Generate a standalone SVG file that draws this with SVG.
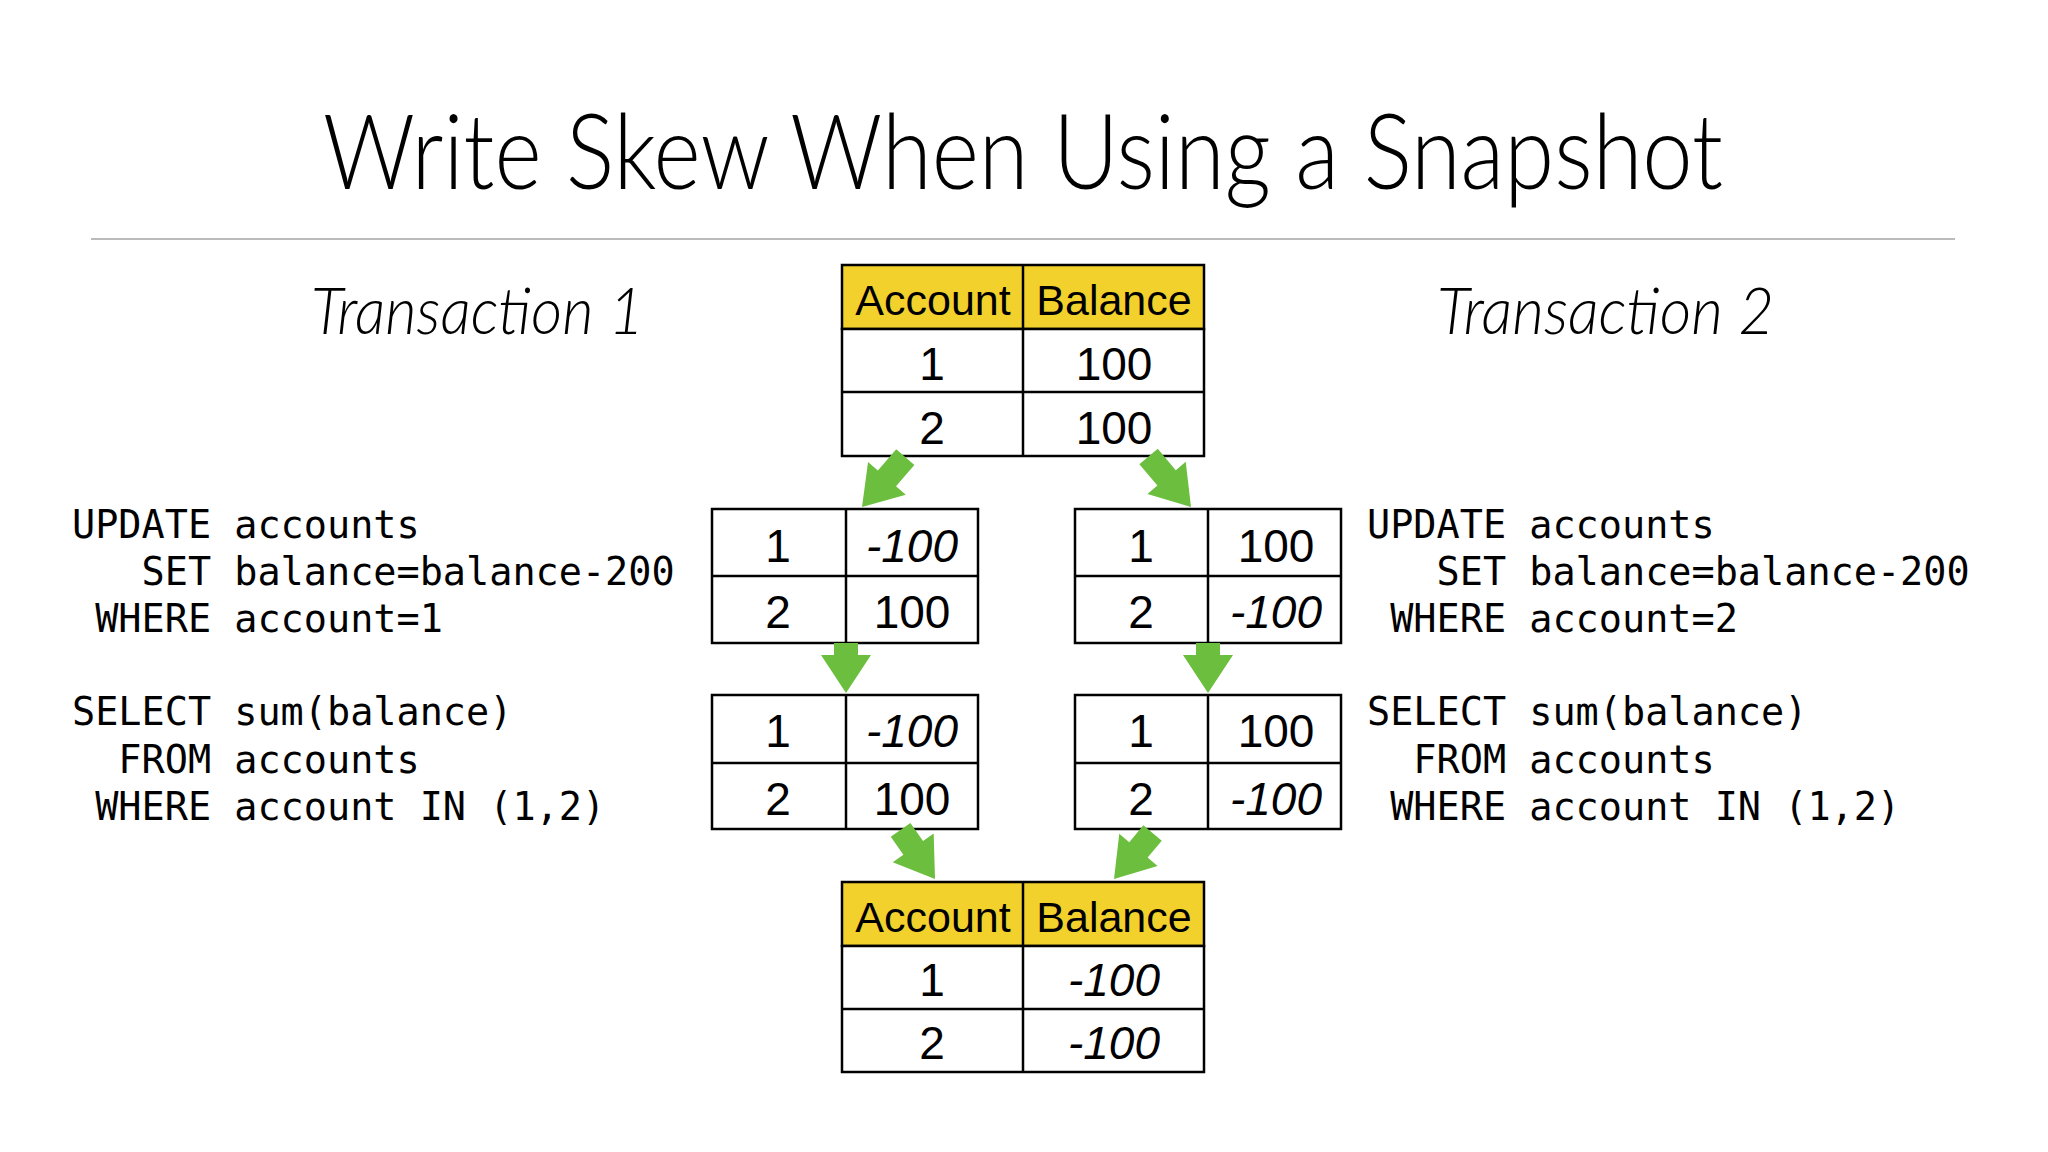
<svg xmlns="http://www.w3.org/2000/svg" width="2048" height="1152" viewBox="0 0 2048 1152">
<style>
.t{font-family:"Liberation Sans",Arial,sans-serif;fill:#000}
.title{font-size:104px;font-weight:300;font-family:Lato,"Liberation Sans",sans-serif}
.tx{font-size:66px;font-style:italic;font-weight:300;font-family:Lato,"Liberation Sans",sans-serif}
.code{font-family:"DejaVu Sans Mono","Liberation Mono",monospace;font-size:38.5px;white-space:pre;fill:#000}
.c{font-family:"Liberation Sans",Arial,sans-serif;font-size:46px;text-anchor:middle;fill:#000}
.h{font-size:43px}
.i{font-style:italic}
.cell{fill:#fff;stroke:#000;stroke-width:2.5}
.hdr{fill:#f2d12c;stroke:#000;stroke-width:2.5}
.ln{stroke:#000;stroke-width:2.5}
.arr{fill:#6cbf3e}
</style>
<rect width="2048" height="1152" fill="#fff"/>
<text class="t title" x="323" y="189" textLength="1400" lengthAdjust="spacingAndGlyphs">Write Skew When Using a Snapshot</text>
<line x1="91" y1="239" x2="1955" y2="239" stroke="#bbb" stroke-width="2"/>
<text class="t tx" x="311" y="334" textLength="333" lengthAdjust="spacingAndGlyphs">Transaction 1</text>
<text class="t tx" x="1437" y="334" textLength="337" lengthAdjust="spacingAndGlyphs">Transaction 2</text>

<g id="code1">
<text class="code" x="72" y="538">UPDATE accounts</text>
<text class="code" x="72" y="585">   SET balance=balance-200</text>
<text class="code" x="72" y="632"> WHERE account=1</text>
<text class="code" x="72" y="725">SELECT sum(balance)</text>
<text class="code" x="72" y="773">  FROM accounts</text>
<text class="code" x="72" y="820"> WHERE account IN (1,2)</text>
</g>
<g id="code2">
<text class="code" x="1367" y="538">UPDATE accounts</text>
<text class="code" x="1367" y="585">   SET balance=balance-200</text>
<text class="code" x="1367" y="632"> WHERE account=2</text>
<text class="code" x="1367" y="725">SELECT sum(balance)</text>
<text class="code" x="1367" y="773">  FROM accounts</text>
<text class="code" x="1367" y="820"> WHERE account IN (1,2)</text>
</g>

<g id="table-top">
<rect class="hdr" x="842" y="265" width="362" height="64"/>
<rect class="cell" x="842" y="329" width="362" height="127"/>
<line class="ln" x1="842" y1="392" x2="1204" y2="392"/>
<line class="ln" x1="1023" y1="265" x2="1023" y2="456"/>
<text class="c h" x="933" y="315">Account</text>
<text class="c h" x="1114" y="315">Balance</text>
<text class="c" x="932" y="380">1</text><text class="c" x="1114" y="380">100</text>
<text class="c" x="932" y="444">2</text><text class="c" x="1114" y="444">100</text>
</g>

<g id="t1-after-update">
<rect class="cell" x="712" y="509" width="266" height="134"/>
<line class="ln" x1="712" y1="576" x2="978" y2="576"/>
<line class="ln" x1="846" y1="509" x2="846" y2="643"/>
<text class="c" x="778" y="562">1</text><text class="c i" x="912" y="562">-100</text>
<text class="c" x="778" y="628">2</text><text class="c" x="912" y="628">100</text>
</g>
<g id="t2-after-update">
<rect class="cell" x="1075" y="509" width="266" height="134"/>
<line class="ln" x1="1075" y1="576" x2="1341" y2="576"/>
<line class="ln" x1="1208" y1="509" x2="1208" y2="643"/>
<text class="c" x="1141" y="562">1</text><text class="c" x="1276" y="562">100</text>
<text class="c" x="1141" y="628">2</text><text class="c i" x="1276" y="628">-100</text>
</g>
<g id="t1-select">
<rect class="cell" x="712" y="695" width="266" height="134"/>
<line class="ln" x1="712" y1="763" x2="978" y2="763"/>
<line class="ln" x1="846" y1="695" x2="846" y2="829"/>
<text class="c" x="778" y="747">1</text><text class="c i" x="912" y="747">-100</text>
<text class="c" x="778" y="815">2</text><text class="c" x="912" y="815">100</text>
</g>
<g id="t2-select">
<rect class="cell" x="1075" y="695" width="266" height="134"/>
<line class="ln" x1="1075" y1="763" x2="1341" y2="763"/>
<line class="ln" x1="1208" y1="695" x2="1208" y2="829"/>
<text class="c" x="1141" y="747">1</text><text class="c" x="1276" y="747">100</text>
<text class="c" x="1141" y="815">2</text><text class="c i" x="1276" y="815">-100</text>
</g>

<g id="table-bottom">
<rect class="hdr" x="842" y="882" width="362" height="64"/>
<rect class="cell" x="842" y="946" width="362" height="126"/>
<line class="ln" x1="842" y1="1009" x2="1204" y2="1009"/>
<line class="ln" x1="1023" y1="882" x2="1023" y2="1072"/>
<text class="c h" x="933" y="932">Account</text>
<text class="c h" x="1114" y="932">Balance</text>
<text class="c" x="932" y="996">1</text><text class="c i" x="1114" y="996">-100</text>
<text class="c" x="932" y="1059">2</text><text class="c i" x="1114" y="1059">-100</text>
</g>

<g id="connectors">
<path class="arr" transform="translate(862,507) rotate(41)" d="M-12,-66 L12,-66 L12,-38 L25,-38 L0,0 L-25,-38 L-12,-38 Z"/>
<path class="arr" transform="translate(1191,507) rotate(-40)" d="M-12,-66 L12,-66 L12,-38 L25,-38 L0,0 L-25,-38 L-12,-38 Z"/>
<path class="arr" transform="translate(846,693)" d="M-12,-50 L12,-50 L12,-38 L25,-38 L0,0 L-25,-38 L-12,-38 Z"/>
<path class="arr" transform="translate(1208,693)" d="M-12,-50 L12,-50 L12,-38 L25,-38 L0,0 L-25,-38 L-12,-38 Z"/>
<path class="arr" transform="translate(935,879) rotate(-35)" d="M-12,-60 L12,-60 L12,-38 L25,-38 L0,0 L-25,-38 L-12,-38 Z"/>
<path class="arr" transform="translate(1114,879) rotate(40)" d="M-12,-60 L12,-60 L12,-38 L25,-38 L0,0 L-25,-38 L-12,-38 Z"/>
</g>
</svg>
